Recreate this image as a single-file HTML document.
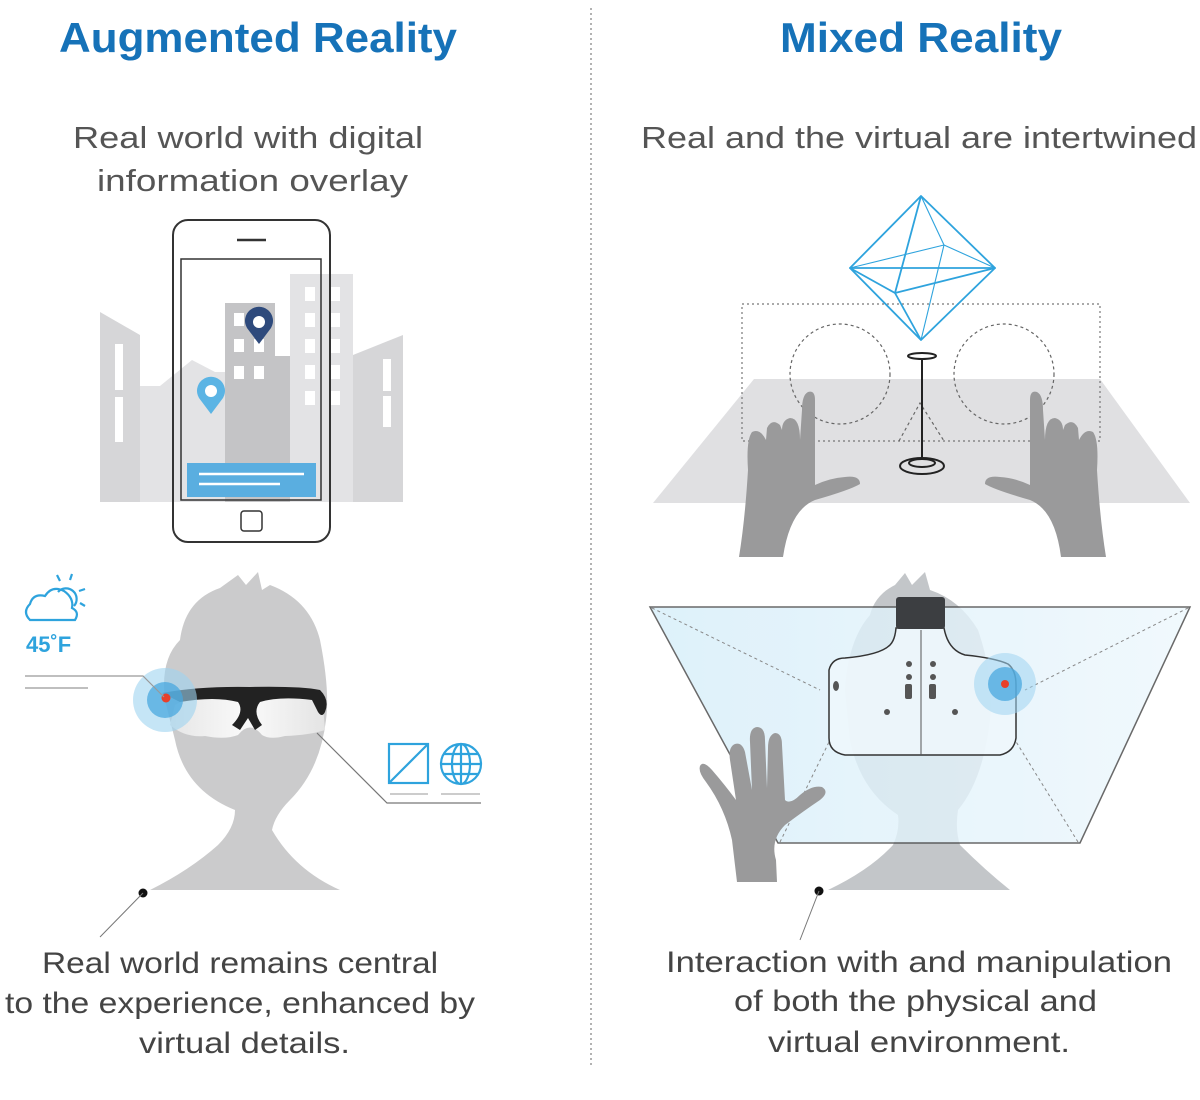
<!DOCTYPE html>
<html><head><meta charset="utf-8"><style>
html,body{margin:0;padding:0;background:#fff;}
svg{display:block;}
text{font-family:"Liberation Sans",sans-serif;}
</style></head><body>
<svg width="1200" height="1100" viewBox="0 0 1200 1100" xmlns="http://www.w3.org/2000/svg">
<defs>
<linearGradient id="glass" x1="0" x2="1" y1="0" y2="0">
<stop offset="0" stop-color="#d6eefa"/><stop offset="1" stop-color="#eef8fd"/>
</linearGradient>
<linearGradient id="lens" x1="0" x2="1"><stop offset="0" stop-color="#e6e6e6"/><stop offset="0.5" stop-color="#fafafa"/><stop offset="1" stop-color="#e4e4e4"/></linearGradient>
</defs>
<!-- titles -->
<text x="59" y="52" textLength="398" lengthAdjust="spacingAndGlyphs" font-size="42" font-weight="bold" fill="#1672b8">Augmented Reality</text>
<text x="780" y="52" textLength="282" lengthAdjust="spacingAndGlyphs" font-size="42" font-weight="bold" fill="#1672b8">Mixed Reality</text>
<line x1="591" y1="8" x2="591" y2="1066" stroke="#999" stroke-width="1.5" stroke-dasharray="2,3"/>
<g font-size="31" fill="#555" lengthAdjust="spacingAndGlyphs">
<text x="73" y="148" textLength="350" lengthAdjust="spacingAndGlyphs">Real world with digital</text>
<text x="97" y="191" textLength="311" lengthAdjust="spacingAndGlyphs">information overlay</text>
<text x="641" y="148" textLength="556" lengthAdjust="spacingAndGlyphs">Real and the virtual are intertwined</text>
</g>

<!-- city -->
<g>
<polygon points="140,386 160,386 192,360 215,372 225,372 225,502 140,502" fill="#e3e3e5"/>
<rect x="290" y="274" width="63" height="228" fill="#e3e3e5"/>
<polygon points="100,312 140,335 140,502 100,502" fill="#d6d6d8"/>
<polygon points="353,355 403,335 403,502 353,502" fill="#d6d6d8"/>
<polygon points="225,303 275,303 275,356 290,356 290,502 225,502" fill="#c4c4c6"/>
<g fill="#fff">
<rect x="115" y="344" width="8" height="46"/><rect x="115" y="397" width="8" height="45"/>
<rect x="383" y="359" width="8" height="32"/><rect x="383" y="396" width="8" height="31"/>
<rect x="234" y="313" width="10" height="13"/><rect x="234" y="339" width="10" height="13"/><rect x="254" y="339" width="10" height="13"/>
<rect x="234" y="366" width="10" height="13"/><rect x="254" y="366" width="10" height="13"/>
<g><rect x="305" y="287" width="10" height="14"/><rect x="330" y="287" width="10" height="14"/>
<rect x="305" y="313" width="10" height="14"/><rect x="330" y="313" width="10" height="14"/>
<rect x="305" y="339" width="10" height="14"/><rect x="330" y="339" width="10" height="14"/>
<rect x="305" y="365" width="10" height="14"/><rect x="330" y="365" width="10" height="14"/>
<rect x="305" y="391" width="10" height="14"/><rect x="330" y="391" width="10" height="14"/></g>
</g>
<rect x="187" y="463" width="129" height="34" fill="#5aaee0"/>
<line x1="199" y1="474" x2="304" y2="474" stroke="#fff" stroke-width="2.5"/>
<line x1="199" y1="484" x2="280" y2="484" stroke="#fff" stroke-width="2.5"/>
<path d="M259,344 L247,328 A14,14 0 1 1 271,328 Z" fill="#2e4a7c"/><circle cx="259" cy="322" r="6" fill="#fff"/>
<path d="M211,414 L199,398 A14,14 0 1 1 223,398 Z" fill="#5bb4e4"/><circle cx="211" cy="391" r="6" fill="#fff"/>
<rect x="173" y="220" width="157" height="322" rx="15" fill="none" stroke="#333" stroke-width="2"/>
<rect x="181" y="259" width="140" height="241" fill="none" stroke="#333" stroke-width="1.5"/>
<line x1="237" y1="240" x2="266" y2="240" stroke="#333" stroke-width="2.5"/>
<rect x="241" y="511" width="21" height="20" rx="3" fill="none" stroke="#333" stroke-width="1.5"/>
</g>

<!-- AR head -->
<g fill="#cbcbcc">
<path d="M232,890 L150,890 Q190,870 218,845 Q235,828 235,810 Q185,790 175,740 L165,700 Q160,660 180,640 Q185,600 220,588 L238,575 L246,585 L258,572 L262,590 L270,585 Q310,600 320,640 Q330,690 326,720 Q320,770 290,800 Q275,815 272,830 Q295,870 340,890 Z"/>
</g>
<path d="M175,705 Q200,690 250,688 Q300,688 322,695 L325,730 Q310,735 285,736 Q270,740 262,735 Q250,720 238,735 Q225,740 205,736 Q185,738 170,725 Z" fill="url(#lens)"/>
<path d="M162,693 Q200,686 250,687 Q300,686 320,690 Q330,700 325,712 Q322,718 318,712 L312,700 Q280,696 260,702 Q252,712 262,725 L255,730 L248,718 L240,730 L232,725 Q245,712 238,702 Q215,696 180,702 Z" fill="#222"/>
<circle cx="165" cy="700" r="32" fill="#9fd3f0" opacity="0.6"/>
<circle cx="165" cy="700" r="18" fill="#4aa8df" opacity="0.75"/>
<circle cx="166" cy="698" r="4.5" fill="#e8402a"/>
<polyline points="25,676 143,676 164,697" fill="none" stroke="#999" stroke-width="1.2"/>
<line x1="25" y1="688" x2="88" y2="688" stroke="#999" stroke-width="1.2"/>
<polyline points="317,733 387,803 481,803" fill="none" stroke="#777" stroke-width="1.2"/>
<line x1="390" y1="794" x2="428" y2="794" stroke="#bbb" stroke-width="1.5"/>
<line x1="441" y1="794" x2="480" y2="794" stroke="#bbb" stroke-width="1.5"/>
<g stroke="#2ea3dd" stroke-width="2.2" fill="none">
<rect x="389" y="744" width="39" height="39"/><line x1="389" y1="783" x2="428" y2="744"/>
<circle cx="461" cy="764" r="20"/><ellipse cx="461" cy="764" rx="9" ry="20"/><line x1="461" y1="744" x2="461" y2="784"/>
<line x1="441" y1="764" x2="481" y2="764"/><line x1="444" y1="754" x2="478" y2="754"/><line x1="444" y1="774" x2="478" y2="774"/>
<path d="M30,620 Q22,612 30,604 Q33,593 45,596 Q52,585 64,591 Q74,598 72,608 Q80,612 75,620 Z"/>
<path d="M58,592 A10,10 0 1 1 74,606"/>
<line x1="57" y1="575" x2="60" y2="581"/><line x1="72" y1="574" x2="70" y2="580"/><line x1="85" y1="589" x2="79" y2="591"/><line x1="85" y1="606" x2="80" y2="603"/>
</g>
<text x="26" y="652" font-size="22" font-weight="bold" fill="#2ea3dd">45˚F</text>
<circle cx="143" cy="893" r="4.5" fill="#111"/>
<line x1="143" y1="893" x2="100" y2="937" stroke="#777" stroke-width="1"/>
<g font-size="30" fill="#444">
<text x="42" y="973" textLength="396" lengthAdjust="spacingAndGlyphs">Real world remains central</text>
<text x="5" y="1013" textLength="470" lengthAdjust="spacingAndGlyphs">to the experience, enhanced by</text>
<text x="139" y="1053" textLength="211" lengthAdjust="spacingAndGlyphs">virtual details.</text>
<text x="666" y="972" textLength="506" lengthAdjust="spacingAndGlyphs">Interaction with and manipulation</text>
<text x="734" y="1011" textLength="363" lengthAdjust="spacingAndGlyphs">of both the physical and</text>
<text x="768" y="1052" textLength="302" lengthAdjust="spacingAndGlyphs">virtual environment.</text>
</g>

<!-- MR top -->
<polygon points="653,503 1190,503 1100,379 754,379" fill="#e0e0e2"/>
<rect x="742" y="304" width="358" height="137" fill="none" stroke="#777" stroke-width="1.2" stroke-dasharray="2,3"/>
<circle cx="840" cy="374" r="50" fill="none" stroke="#666" stroke-width="1.2" stroke-dasharray="3,3"/>
<circle cx="1004" cy="374" r="50" fill="none" stroke="#666" stroke-width="1.2" stroke-dasharray="3,3"/>
<polyline points="899,441 920,403 944,441" fill="none" stroke="#666" stroke-width="1.2" stroke-dasharray="3,3"/>
<g stroke="#2ea3dd" stroke-width="1.8" fill="none" stroke-linejoin="round">
<polygon points="921,196 850,268 895,293 995,268"/>
<polygon points="850,268 921,340 995,268"/>
<line x1="921" y1="196" x2="895" y2="293"/><line x1="895" y1="293" x2="921" y2="340"/>
<g stroke-width="1.1"><line x1="921" y1="196" x2="944" y2="245"/><line x1="850" y1="268" x2="944" y2="245"/><line x1="944" y1="245" x2="995" y2="268"/><line x1="944" y1="245" x2="921" y2="340"/></g>
</g>
<g stroke="#222" stroke-width="2" fill="none">
<ellipse cx="922" cy="356" rx="14" ry="3"/>
<line x1="922" y1="359" x2="922" y2="459"/>
<ellipse cx="922" cy="466" rx="22" ry="8"/><ellipse cx="922" cy="463" rx="13" ry="4"/>
</g>
<g fill="#9a9a9b">
<path d="M739,557 L783,557 Q790,510 815,500 Q850,490 860,484 Q860,475 845,477 Q830,478 815,485 L815,400 Q815,390 808,392 Q802,395 802,410 L800,440 Q800,418 790,418 Q782,420 782,430 L780,425 Q772,418 767,428 L766,440 Q760,428 752,432 Q746,440 748,470 Q745,520 739,557 Z"/>
<path d="M1106,557 L1061,557 Q1055,510 1030,500 Q995,490 985,484 Q985,475 1000,477 Q1015,478 1030,485 L1030,400 Q1030,390 1037,392 Q1043,395 1043,410 L1045,440 Q1045,418 1055,418 Q1063,420 1063,430 L1065,425 Q1073,418 1078,428 L1079,440 Q1085,428 1093,432 Q1099,440 1097,470 Q1100,520 1106,557 Z"/>
</g>

<!-- MR bottom -->
<path d="M930,890 L828,890 Q870,870 893,845 Q900,830 898,815 Q860,790 850,740 L845,690 Q848,640 870,615 Q875,595 895,585 L905,573 L912,585 L925,572 L930,590 Q960,600 978,630 Q995,680 990,720 Q983,780 958,810 Q955,830 960,845 Q985,870 1010,890 Z" fill="#c3c6c9"/>
<polygon points="650,607 1190,607 1080,843 778,843" fill="url(#glass)" opacity="0.8" stroke="#444" stroke-width="1.5"/>
<g stroke="#888" stroke-width="1" stroke-dasharray="3,3" fill="none">
<line x1="652" y1="608" x2="820" y2="690"/><line x1="1188" y1="608" x2="1025" y2="690"/>
<line x1="780" y1="842" x2="830" y2="740"/><line x1="1078" y1="842" x2="1015" y2="740"/>
</g>
<path d="M898,628 L944,628 Q948,650 965,655 Q995,658 1008,664 Q1016,670 1016,685 L1016,738 Q1014,752 1000,755 L845,755 Q829,752 829,738 L829,670 Q832,658 845,658 Q880,655 890,645 Q895,640 896,628 Z" fill="#eef7fc" fill-opacity="0.85" stroke="#333" stroke-width="1.5"/>
<rect x="896" y="597" width="49" height="32" rx="3" fill="#3c3e41"/>
<line x1="921" y1="630" x2="921" y2="755" stroke="#555" stroke-width="1"/>
<g fill="#555">
<circle cx="909" cy="664" r="3"/><circle cx="909" cy="677" r="3"/><rect x="905" y="684" width="7" height="15" rx="2"/>
<circle cx="933" cy="664" r="3"/><circle cx="933" cy="677" r="3"/><rect x="929" y="684" width="7" height="15" rx="2"/>
<circle cx="887" cy="712" r="3"/><circle cx="955" cy="712" r="3"/><ellipse cx="836" cy="686" rx="3" ry="5"/>
</g>
<circle cx="1005" cy="684" r="31" fill="#9fd3f0" opacity="0.55"/>
<circle cx="1005" cy="684" r="17" fill="#4aa8df" opacity="0.75"/>
<circle cx="1005" cy="684" r="4" fill="#e8402a"/>
<path d="M737,882 L777,882 L776,860 Q770,840 785,825 Q805,810 820,800 Q830,792 822,787 Q812,785 800,795 Q790,805 785,800 L782,745 Q782,733 775,733 Q768,735 768,748 L767,788 L765,740 Q765,727 757,727 Q749,728 750,742 L752,790 L745,752 Q742,742 735,744 Q728,747 730,760 L736,800 Q725,785 712,770 Q703,760 700,766 Q698,772 706,782 Q725,808 732,840 Z" fill="#9a9a9b"/>
<circle cx="819" cy="891" r="4.5" fill="#111"/>
<line x1="819" y1="891" x2="800" y2="940" stroke="#777" stroke-width="1"/>
</svg>
</body></html>
